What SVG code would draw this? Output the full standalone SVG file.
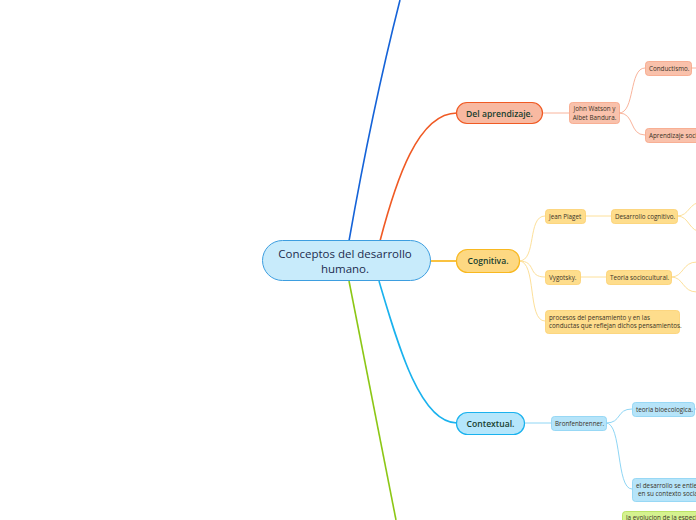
<svg xmlns="http://www.w3.org/2000/svg" width="696" height="520" viewBox="0 0 696 520">
<style>
text{font-family:"Open Sans","Noto Sans",sans-serif;}
.main{font-size:11.5px;fill:#1c2b4f;text-anchor:middle;}
.br{font-size:8.6px;font-weight:600;fill:#17402f;text-anchor:middle;}
.sm{font-size:6.3px;fill:#3a3327;}
.c{text-anchor:middle;}
.l{fill:none;stroke-width:1.6;}
.sl{fill:none;stroke-width:1;}
.or-n{fill:#f8b9a1;stroke:#f05a24;stroke-width:1.2;}
.or-s{fill:#f9c1ab;stroke:#f6a283;stroke-width:0.8;}
.ye-n{fill:#fdd882;stroke:#f8b820;stroke-width:1.2;}
.ye-s{fill:#fedd8c;stroke:#fbcf6e;stroke-width:0.8;}
.bl-n{fill:#b5e6fb;stroke:#1ab2ee;stroke-width:1.2;}
.bl-s{fill:#b6e4f9;stroke:#86d2f3;stroke-width:0.8;}
.gr-s{fill:#d5f28f;stroke:#b1de4c;stroke-width:0.8;}
</style>
<rect width="696" height="520" fill="#ffffff"/>
<g id="connectors">
<path class="l" stroke="#1563d8" d="M349,241 Q372,110 400,0"/>
<path class="l" stroke="#f05a24" d="M380,241 C396,180 418,113 457,113"/>
<path class="l" stroke="#f9b310" d="M430,261 L457,261"/>
<path class="l" stroke="#1ab2ee" d="M379,281 C398,345 420,423 457,423"/>
<path class="l" stroke="#8cc715" d="M349,281 Q372,400 396,520"/>
<path class="sl" stroke="#f9b49c" d="M543,113 L569,113"/>
<path class="sl" stroke="#f9b49c" d="M619,113 C635,113 629,68 645,68"/>
<path class="sl" stroke="#f9b49c" d="M619,113 C635,113 629,135 645,135"/>
<path class="sl" stroke="#f9b49c" d="M691,68 L696,68"/>
<path class="sl" stroke="#fde09a" d="M519,261 C537,261 527,216 545,216"/>
<path class="sl" stroke="#fde09a" d="M519,261 C537,261 527,277 545,277"/>
<path class="sl" stroke="#fde09a" d="M519,261 C537,261 527,321 545,321"/>
<path class="sl" stroke="#fde09a" d="M585,216 L611,216"/>
<path class="sl" stroke="#fde09a" d="M580,277 L606,277"/>
<path class="sl" stroke="#fde09a" d="M677,216 C690,216 688,202 703,202"/>
<path class="sl" stroke="#fde09a" d="M677,216 C690,216 688,232 703,232"/>
<path class="sl" stroke="#fde09a" d="M671,277 C684,277 682,262 697,262"/>
<path class="sl" stroke="#fde09a" d="M671,277 C684,277 682,292 697,292"/>
<path class="sl" stroke="#8fd6f5" d="M524,423 L551,423"/>
<path class="sl" stroke="#8fd6f5" d="M606,423 C622,423 616,409 632,409"/>
<path class="sl" stroke="#8fd6f5" d="M606,423 C622,423 616,489 632,489"/>
<path class="sl" stroke="#8fd6f5" d="M694,409 L696,409"/>
</g>
<g id="central">
<rect x="262.5" y="240.5" width="168" height="40" rx="20" fill="#c8ebfb" stroke="#3d9ee0" stroke-width="1"/>
<text class="main" x="345" y="258">Conceptos del desarrollo</text>
<text class="main" x="345" y="273">humano.</text>
</g>
<g id="del-aprendizaje">
<rect class="or-n" x="456.5" y="102.5" width="86" height="21" rx="10.5"/>
<text class="br" x="499.5" y="116.5">Del aprendizaje.</text>
</g>
<g id="watson">
<rect class="or-s" x="569.5" y="102.5" width="50" height="21" rx="3"/>
<text class="sm c" x="594.5" y="111">John Watson y</text>
<text class="sm c" x="594.5" y="119.5">Albet Bandura.</text>
</g>
<g id="conductismo">
<rect class="or-s" x="645.5" y="61.5" width="46" height="14" rx="3"/>
<text class="sm" x="649" y="70.5">Conductismo.</text>
</g>
<g id="aprendizaje-social">
<rect class="or-s" x="645.5" y="128.5" width="70" height="14" rx="3"/>
<text class="sm" x="649" y="137.5">Aprendizaje social.</text>
</g>
<g id="cognitiva">
<rect class="ye-n" x="456.5" y="249.5" width="63" height="23" rx="11"/>
<text class="br" x="488" y="264">Cognitiva.</text>
</g>
<g id="piaget">
<rect class="ye-s" x="545.5" y="209.5" width="40" height="14" rx="3"/>
<text class="sm" x="549" y="218.5">Jean Piaget</text>
</g>
<g id="desarrollo-cognitivo">
<rect class="ye-s" x="611.5" y="209.5" width="66" height="14" rx="3"/>
<text class="sm" x="615" y="218.5">Desarrollo cognitivo.</text>
</g>
<g id="vygotsky">
<rect class="ye-s" x="545.5" y="270.5" width="35" height="14" rx="3"/>
<text class="sm" x="549" y="279.5">Vygotsky.</text>
</g>
<g id="sociocultural">
<rect class="ye-s" x="606.5" y="270.5" width="65" height="14" rx="3"/>
<text class="sm" x="610" y="279.5">Teoria sociocultural.</text>
</g>
<g id="procesos">
<rect class="ye-s" x="545.5" y="310.5" width="134" height="23" rx="3"/>
<text class="sm" x="549" y="319.5">procesos del pensamiento y en las</text>
<text class="sm" x="549" y="328">conductas que reflejan dichos pensamientos.</text>
</g>
<g id="contextual">
<rect class="bl-n" x="456.5" y="412.5" width="68" height="22" rx="11"/>
<text class="br" x="490.5" y="426.5">Contextual.</text>
</g>
<g id="bronfenbrenner">
<rect class="bl-s" x="551.5" y="416.5" width="55" height="14" rx="3"/>
<text class="sm" x="555" y="425.5">Bronfenbrenner.</text>
</g>
<g id="bioecologica">
<rect class="bl-s" x="632.5" y="402.5" width="62" height="14" rx="3"/>
<text class="sm" x="636" y="411.5">teoria bioecologica.</text>
</g>
<g id="contexto-social">
<rect class="bl-s" x="632.5" y="478.5" width="90" height="23" rx="3"/>
<text class="sm" x="636" y="487.5">el desarrollo se entiende</text>
<text class="sm" x="638" y="496">en su contexto social.</text>
</g>
<g id="evolucion">
<rect class="gr-s" x="622.5" y="511.5" width="110" height="23" rx="3"/>
<text class="sm" x="626" y="520">la evolucion de la especie</text>
</g>
</svg>
